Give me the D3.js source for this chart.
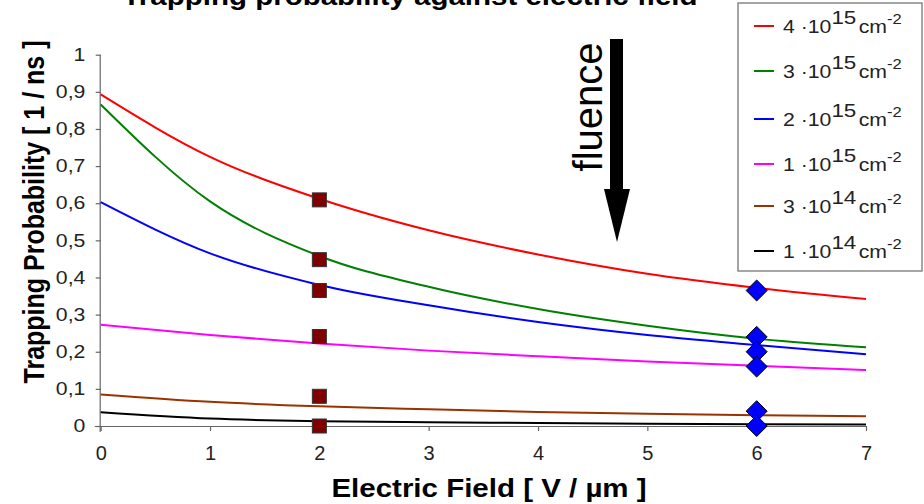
<!DOCTYPE html>
<html>
<head>
<meta charset="utf-8">
<script src="https://cdn.jsdelivr.net/npm/d3@7"></script>
<style>
  body { margin: 0; background: #fff; }
  svg { display: block; font-family: "Liberation Sans", Arial, sans-serif; }
</style>
</head>
<body>
<svg id="chart" width="924" height="504"></svg>
<script>
// ---- data ----
const fieldValues = [0, 1, 2, 3, 4, 5, 6, 7];
const seriesNames = ["4e15", "3e15", "2e15", "1e15", "3e14", "1e14"];
const seriesCoef = ["4", "3", "2", "1", "3", "1"];
const seriesExp = ["15", "15", "15", "15", "14", "14"];
const seriesColors = ["#ff0000", "#008000", "#0000ff", "#ff00ff", "#993300", "#000000"];
const red4e15   = [0.893, 0.725, 0.612, 0.527, 0.462, 0.410, 0.372, 0.342];
const green3e15 = [0.866, 0.605, 0.458, 0.375, 0.315, 0.270, 0.235, 0.212];
const blue2e15  = [0.603, 0.465, 0.380, 0.325, 0.280, 0.245, 0.218, 0.193];
const mag1e15   = [0.273, 0.245, 0.222, 0.203, 0.188, 0.174, 0.162, 0.151];
const brown3e14 = [0.085, 0.065, 0.053, 0.045, 0.038, 0.033, 0.029, 0.026];
const black1e14 = [0.037, 0.020, 0.013, 0.010, 0.008, 0.006, 0.005, 0.004];
const seriesValues = [red4e15, green3e15, blue2e15, mag1e15, brown3e14, black1e14];
const squareX = 2;
const squareValues = [0.609, 0.448, 0.365, 0.241, 0.080, 0.000];
const diamondX = 6;
const diamondValues = [0.365, 0.240, 0.200, 0.160, 0.040, 0.000];
const xTicks = [0, 1, 2, 3, 4, 5, 6, 7];
const yTicks = [0, 0.1, 0.2, 0.3, 0.4, 0.5, 0.6, 0.7, 0.8, 0.9, 1];

// ---- layout ----
const SX = 1.18; // horizontal text stretch seen in the reference
const svg = d3.select("#chart");
const x = d3.scaleLinear().domain([0, 7]).range([100.7, 866]);
const y = d3.scaleLinear().domain([0, 1]).range([426, 54.7]);

// title (partly cut at top, as in the reference)
svg.append("text")
  .attr("transform", `translate(410,5) scale(${SX},1)`)
  .attr("text-anchor", "middle")
  .attr("font-size", 25).attr("font-weight", "bold")
  .text("Trapping probability against electric field");

// axes
const fmt = d => d === 0 ? "0" : (d === 1 ? "1" : d3.format(".1f")(d).replace(".", ","));
const yAxis = svg.append("g").attr("transform", `translate(${x(0)},0)`)
  .call(d3.axisLeft(y).tickValues(yTicks).tickFormat(fmt).tickSize(5).tickPadding(8));
yAxis.selectAll("text").attr("font-size", 18).attr("fill", "#222")
  .attr("font-family", "Liberation Sans, Arial, sans-serif")
  .attr("transform", `scale(${SX},1)`);
const xAxis = svg.append("g").attr("transform", `translate(0,${y(0)})`)
  .call(d3.axisBottom(x).tickValues(xTicks).tickFormat(d3.format("d")).tickSize(5).tickPadding(15));
xAxis.selectAll("text").attr("font-size", 20).attr("fill", "#222")
  .attr("font-family", "Liberation Sans, Arial, sans-serif");
svg.selectAll(".domain, .tick line").attr("stroke", "#666").attr("stroke-width", 1.2);
xAxis.select(".domain").attr("d", `M${x(0) - 6},0.5H${x(7)}`);
yAxis.select(".domain").attr("d", `M-0.5,${y(1)}V${y(0) + 6}`);

// axis titles
svg.append("text")
  .attr("transform", `translate(489,497) scale(${SX},1)`)
  .attr("text-anchor", "middle")
  .attr("font-size", 25).attr("font-weight", "bold")
  .text("Electric Field [ V / µm ]");
svg.append("text")
  .attr("transform", `translate(44,212) scale(${SX},1) rotate(-90)`)
  .attr("text-anchor", "middle")
  .attr("font-size", 25).attr("font-weight", "bold")
  .text("Trapping Probability [ 1 / ns ]");

// curves
const line = d3.line().x((d, i) => x(fieldValues[i])).y(d => y(d)).curve(d3.curveMonotoneX);
seriesValues.forEach((vals, k) => {
  svg.append("path").datum(vals)
    .attr("d", line).attr("fill", "none")
    .attr("stroke", seriesColors[k]).attr("stroke-width", 2);
});

// squares at x=2
const sq = 14;
svg.selectAll("rect.sq").data(squareValues).enter().append("rect")
  .attr("class", "sq")
  .attr("x", x(squareX) - sq / 2).attr("y", d => y(d) - sq / 2)
  .attr("width", sq).attr("height", sq)
  .attr("fill", "#800000").attr("stroke", "#333").attr("stroke-width", 1);

// diamonds at x=6
const dh = 10.5;
svg.selectAll("path.dia").data(diamondValues).enter().append("path")
  .attr("class", "dia")
  .attr("d", d => `M${x(diamondX)},${y(d) - dh}L${x(diamondX) + dh},${y(d)}L${x(diamondX)},${y(d) + dh}L${x(diamondX) - dh},${y(d)}Z`)
  .attr("fill", "#0000ff").attr("stroke", "#000").attr("stroke-width", 1);

// fluence arrow
svg.append("rect").attr("x", 610).attr("y", 39).attr("width", 13).attr("height", 152).attr("fill", "#000");
svg.append("path").attr("d", "M604,189L630,189L617,242Z").attr("fill", "#000");
svg.append("text")
  .attr("transform", "translate(602,107) rotate(-90)")
  .attr("text-anchor", "middle")
  .attr("font-size", 40)
  .text("fluence");

// legend
const lg = svg.append("g");
lg.append("rect").attr("x", 738).attr("y", 3).attr("width", 184).attr("height", 268)
  .attr("fill", "#fff").attr("stroke", "#888").attr("stroke-width", 1.5);
const legendY = [26, 71, 119, 164, 206, 251];
seriesNames.forEach((n, k) => {
  const yy = legendY[k];
  lg.append("line").attr("x1", 754).attr("x2", 774).attr("y1", yy).attr("y2", yy)
    .attr("stroke", seriesColors[k]).attr("stroke-width", 2);
  const t = lg.append("text").attr("transform", `translate(783,${yy + 7}) scale(${SX},1)`)
    .attr("font-size", 18).attr("fill", "#222");
  t.append("tspan").text(seriesCoef[k] + " \u00B710");
  t.append("tspan").attr("dy", -9).attr("font-size", 19).text(seriesExp[k]);
  t.append("tspan").attr("dy", 9).attr("dx", 2).text("cm");
  t.append("tspan").attr("dy", -9).attr("font-size", 14).text("-2");
});
</script>
</body>
</html>
